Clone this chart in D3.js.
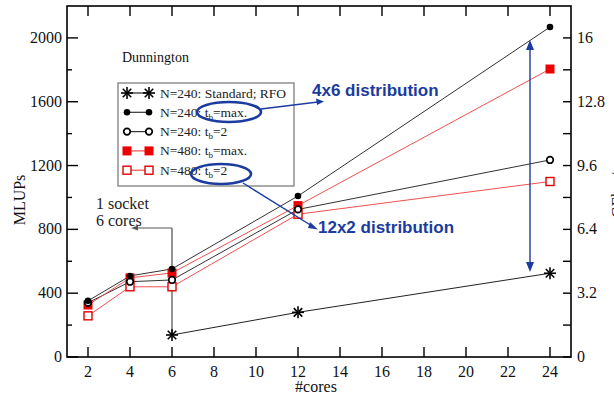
<!DOCTYPE html>
<html><head><meta charset="utf-8">
<script src="https://cdn.jsdelivr.net/npm/d3@7"></script>
<style>body{margin:0;background:#fff}svg{display:block}</style>
</head><body>
<svg id="c" width="614" height="398"></svg>
<script>
const cores = [2, 4, 6, 12, 24];
const coresStd = [6, 12, 24];
const std240 = [138, 280, 525];
const tbMax240 = [352, 508, 552, 1009, 2068];
const tb2_240 = [340, 472, 483, 925, 1235];
const tbMax480 = [326, 496, 527, 949, 1805];
const tb2_480 = [258, 440, 440, 895, 1100];
const xTicks = [2,4,6,8,10,12,14,16,18,20,22,24];
const yTicks = [0,400,800,1200,1600,2000];
const y2Ticks = [0,3.2,6.4,9.6,12.8,16];
const legendLabels = [["N=240: Standard; RFO",""],["N=240: t","=max."],["N=240: t","=2"],["N=480: t","=max."],["N=480: t","=2"]];

const svg = d3.select("#c");
const L=67,R=571,T=6,B=357;
const x = d3.scaleLinear().domain([1,25]).range([L,R]);
const y = d3.scaleLinear().domain([0,2200]).range([B,T]);
const y2 = d3.scaleLinear().domain([0,17.6]).range([B,T]);
const serif = "'Liberation Serif','DejaVu Serif',serif";
const blue = "#1b3c9e";

// frame
svg.append("rect").attr("x",L).attr("y",T).attr("width",R-L).attr("height",B-T)
  .attr("fill","none").attr("stroke","#000").attr("stroke-width",1.6);

// ticks
const g = svg.append("g").attr("stroke","#000").attr("stroke-width",1.4);
xTicks.forEach(v=>{
  g.append("line").attr("x1",x(v)).attr("x2",x(v)).attr("y1",B).attr("y2",B-10);
  g.append("line").attr("x1",x(v)).attr("x2",x(v)).attr("y1",T).attr("y2",T+10);
});
d3.range(0,2200,200).forEach(v=>{
  const major = v%400===0;
  g.append("line").attr("x1",L).attr("x2",L+(major?11:5)).attr("y1",y(v)).attr("y2",y(v));
});
d3.range(0,17.6,1.6).forEach(v=>{
  g.append("line").attr("x1",R).attr("x2",R-8).attr("y1",y2(v)).attr("y2",y2(v));
});
const tl = svg.append("g").attr("font-family",serif).attr("font-size",16).attr("fill","#111");
xTicks.forEach(v=>tl.append("text").attr("x",x(v)).attr("y",B+20).attr("text-anchor","middle").text(v));
yTicks.forEach(v=>tl.append("text").attr("x",L-5).attr("y",y(v)+5).attr("text-anchor","end").text(v));
y2Ticks.forEach(v=>tl.append("text").attr("x",R+6).attr("y",y2(v)+5).attr("text-anchor","start").text(v));
tl.append("text").attr("x",316).attr("y",392).attr("text-anchor","middle").text("#cores");
tl.append("text").attr("transform","translate(25,200) rotate(-90)").attr("text-anchor","middle").text("MLUPs");
tl.append("text").attr("transform","translate(623,192) rotate(-90)").attr("text-anchor","middle").text("GFlop/s");

// markers
function marker(sel, type, cx, cy){
  if(type==="star"){
    const s=6, gg=sel.append("g").attr("stroke","#000").attr("stroke-width",1.6);
    [0,45,90,135].forEach(a=>{
      const r=a*Math.PI/180;
      gg.append("line").attr("x1",cx-s*Math.cos(r)).attr("y1",cy-s*Math.sin(r))
        .attr("x2",cx+s*Math.cos(r)).attr("y2",cy+s*Math.sin(r));
    });
  } else if(type==="fcirc"){
    sel.append("circle").attr("cx",cx).attr("cy",cy).attr("r",3.3).attr("fill","#000");
  } else if(type==="ocirc"){
    sel.append("circle").attr("cx",cx).attr("cy",cy).attr("r",3.3).attr("fill","#fff").attr("stroke","#000").attr("stroke-width",1.7);
  } else if(type==="fsq"){
    sel.append("rect").attr("x",cx-4.5).attr("y",cy-4.5).attr("width",9).attr("height",9).attr("fill","#ee0000");
  } else if(type==="osq"){
    sel.append("rect").attr("x",cx-4).attr("y",cy-4).attr("width",8).attr("height",8).attr("fill","#fff").attr("stroke","#e00000").attr("stroke-width",1.4);
  }
}

// 1 socket annotation connector
svg.append("line").attr("x1",x(6)).attr("x2",x(6)).attr("y1",228).attr("y2",y(std240[0]))
  .attr("stroke","#666").attr("stroke-width",1.4);
svg.append("line").attr("x1",x(6)).attr("x2",136).attr("y1",228).attr("y2",228)
  .attr("stroke","#555").attr("stroke-width",1.2);
svg.append("path").attr("d",`M131,228 L138,225.5 L138,230.5 Z`).attr("fill","#555");

const series = [
  {xs:coresStd, v:std240, color:"#222", m:"star"},
  {xs:cores, v:tbMax240, color:"#333", m:"fcirc"},
  {xs:cores, v:tb2_240, color:"#333", m:"ocirc"},
  {xs:cores, v:tbMax480, color:"#f05050", m:"fsq"},
  {xs:cores, v:tb2_480, color:"#f05050", m:"osq"}
];
const line = d3.line();
series.forEach(s=>{
  const pts = s.xs.map((c,i)=>[x(c), y(s.v[i])]);
  svg.append("path").attr("d",line(pts)).attr("fill","none").attr("stroke",s.color).attr("stroke-width",1);
});
series.slice().reverse().forEach(s=>{
  s.xs.forEach((c,i)=>marker(svg,s.m,x(c),y(s.v[i])));
});

// title
svg.append("text").attr("x",122).attr("y",62).attr("font-family",serif).attr("font-size",14).attr("fill","#111").text("Dunnington");

// legend
svg.append("rect").attr("x",118).attr("y",83).attr("width",176).attr("height",103)
  .attr("fill","#fff").attr("stroke","#888").attr("stroke-width",1.4);
legendLabels.forEach((lab,i)=>{
  const yy = 93 + i*19.3;
  const s = series[i];
  svg.append("line").attr("x1",127).attr("x2",149).attr("y1",yy).attr("y2",yy).attr("stroke",s.color).attr("stroke-width",1.2);
  marker(svg,s.m,127,yy); marker(svg,s.m,149,yy);
  const t = svg.append("text").attr("x",160).attr("y",yy+4.5).attr("font-family",serif).attr("font-size",13.5).attr("fill","#222");
  t.append("tspan").text(lab[0]);
  if(lab[1]){
    t.append("tspan").attr("font-size",9).attr("dy",3).text("b");
    t.append("tspan").attr("dy",-3).text(lab[1]);
  }
});

// blue annotations
const bl = svg.append("g").attr("stroke",blue).attr("fill","none").attr("stroke-width",2.6);
bl.append("ellipse").attr("cx",229).attr("cy",112).attr("rx",32).attr("ry",10);
bl.append("ellipse").attr("cx",221).attr("cy",174).attr("rx",30).attr("ry",10);
svg.append("line").attr("x1",261).attr("y1",109).attr("x2",318).attr("y2",102).attr("stroke",blue).attr("stroke-width",1.4);
svg.append("path").attr("d","M324,101.5 L316,98.5 L317,105 Z").attr("fill",blue);
svg.append("line").attr("x1",243).attr("y1",183).attr("x2",312).attr("y2",226).attr("stroke",blue).attr("stroke-width",1.4);
svg.append("path").attr("d","M318,229.5 L310,222 L308,228 Z").attr("fill",blue);
// vertical double arrow
svg.append("line").attr("x1",530).attr("x2",530).attr("y1",48).attr("y2",264).attr("stroke",blue).attr("stroke-width",1.4);
svg.append("path").attr("d","M530,40 L526,50 L534,50 Z").attr("fill",blue);
svg.append("path").attr("d","M530,272 L526,262 L534,262 Z").attr("fill",blue);
const bt = svg.append("g").attr("font-family","'Liberation Sans',Arial,sans-serif").attr("font-weight","bold").attr("font-size",17).attr("fill",blue);
bt.append("text").attr("x",312).attr("y",96).text("4x6 distribution");
bt.append("text").attr("x",318).attr("y",233).text("12x2 distribution");

// 1 socket text
const st = svg.append("g").attr("font-family",serif).attr("font-size",16).attr("fill","#222");
st.append("text").attr("x",96).attr("y",209).text("1 socket");
st.append("text").attr("x",96).attr("y",226).text("6 cores");
</script>
</body></html>
